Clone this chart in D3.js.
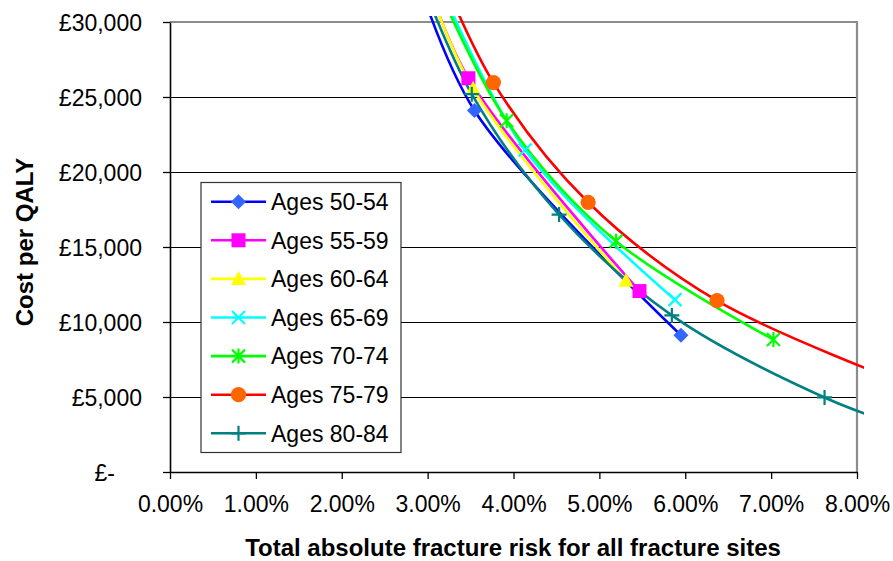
<!DOCTYPE html>
<html>
<head>
<meta charset="utf-8">
<script src="https://cdn.jsdelivr.net/npm/d3@7"></script>
<style>
  html, body { margin: 0; padding: 0; background: #fff; }
  svg { display: block; font-family: "Liberation Sans", Arial, sans-serif; }
  .tick text { font-size: 23px; fill: #000; }
  .axis-title { font-size: 24px; font-weight: bold; fill: #000; }
  .legend text { font-size: 23px; fill: #000; }
</style>
</head>
<body>
<svg id="chart" width="893" height="561"></svg>
<script>
// Cost per QALY against total absolute fracture risk, by age band.
// Values; first (and for the two oldest
// bands, last) point of each series lies outside the axes and is clipped.

const ages = ["Ages 50-54", "Ages 55-59", "Ages 60-64", "Ages 65-69",
  "Ages 70-74", "Ages 75-79", "Ages 80-84"];

// risk in %, one array per age band
const riskPct = [
  [2.82, 3.545, 5.95],
  [2.92, 3.475, 5.467],
  [2.91, 3.53, 5.31],
  [3.03, 4.135, 5.88],
  [2.99, 3.92, 5.195, 7.027],
  [3.10, 3.766, 4.869, 6.37, 8.6],
  [2.84, 3.514, 4.531, 5.844, 7.622, 8.6],
];
// cost per QALY in £
const costGBP = [
  [34000, 24100, 9120],
  [34000, 26250, 12060],
  [34000, 25550, 12750],
  [34000, 21470, 11490],
  [34000, 23420, 15390, 8830],
  [34000, 25960, 17980, 11420, 5800],
  [34000, 25190, 17160, 10440, 4970, 2900],
];

const xTicks = [0, 1, 2, 3, 4, 5, 6, 7, 8];
const xTickLabels = ["0.00%", "1.00%", "2.00%", "3.00%", "4.00%", "5.00%", "6.00%", "7.00%", "8.00%"];
const yTicks = [0, 5000, 10000, 15000, 20000, 25000, 30000];
const yTickLabels = ["£-", "£5,000", "£10,000", "£15,000", "£20,000", "£25,000", "£30,000"];

const lineColors = ["#0000ff", "#ff00ff", "#ffff00", "#00ffff", "#00ff00", "#ff0000", "#008080"];
const markerColors = ["#3366ff", "#ff00ff", "#ffff00", "#00ffff", "#00ff00", "#ff6600", "#008080"];
const markerKinds = ["diamond", "square", "triangle", "times", "asterisk", "circle", "plus"];

const svg = d3.select("#chart");
const margin = { top: 22, right: 36, bottom: 89, left: 170 };
const W = 893, H = 561;

const x = d3.scaleLinear().domain([0, 8]).range([margin.left, W - margin.right]);
const y = d3.scaleLinear().domain([0, 30000]).range([H - margin.bottom, margin.top]);

// ---------- marker shapes ----------
function markerPath(kind) {
  switch (kind) {
    case "diamond": return "M0,-7.5L7.5,0L0,7.5L-7.5,0Z";
    case "square": return "M-7,-7H7V7H-7Z";
    case "triangle": return "M0,-8L7.5,6H-7.5Z";
    case "circle": return d3.symbol(d3.symbolCircle, Math.PI * 7.6 * 7.6)();
    case "times": return "M-6.5,-6.5L6.5,6.5M-6.5,6.5L6.5,-6.5";
    case "asterisk": return "M-6.5,-6.5L6.5,6.5M-6.5,6.5L6.5,-6.5M0,-7.5V7.5";
    case "plus": return "M-7.5,0H7.5M0,-7.5V7.5";
  }
}
const stroked = (k) => k === "times" || k === "asterisk" || k === "plus";
function drawMarker(g, i) {
  const k = markerKinds[i];
  g.append("path").attr("d", markerPath(k))
    .attr("fill", stroked(k) ? "none" : markerColors[i])
    .attr("stroke", stroked(k) ? markerColors[i] : "none")
    .attr("stroke-width", 2.2);
}

// ---------- plot frame + gridlines ----------
svg.append("rect").attr("x", margin.left).attr("y", margin.top)
  .attr("width", x(8) - x(0)).attr("height", y(0) - y(30000)).attr("fill", "#fff");

svg.append("g").selectAll("line").data(yTicks.filter((d) => d > 0 && d < 30000)).join("line")
  .attr("x1", x(0)).attr("x2", x(8)).attr("y1", (d) => y(d)).attr("y2", (d) => y(d))
  .attr("stroke", "#000").attr("stroke-width", 1).attr("shape-rendering", "crispEdges");

svg.append("path")
  .attr("d", `M${x(0)},${y(30000)}H${x(8)}V${y(0)}`)
  .attr("fill", "none").attr("stroke", "#8c8c8c").attr("stroke-width", 2.2);

// ---------- axes ----------
const yAxis = svg.append("g").attr("transform", `translate(${x(0)},0)`)
  .call(d3.axisLeft(y).tickValues(yTicks).tickSize(7).tickSizeOuter(0).tickPadding(21)
    .tickFormat((d, i) => yTickLabels[i]));
yAxis.selectAll(".tick text").attr("dy", "0.36em")
  .attr("x", (d) => (d === 0 ? -55 : -28));

const xAxis = svg.append("g").attr("transform", `translate(0,${y(0)})`)
  .call(d3.axisBottom(x).tickValues(xTicks).tickSize(7).tickSizeOuter(0).tickPadding(17)
    .tickFormat((d, i) => xTickLabels[i]));

[yAxis, xAxis].forEach((a) => {
  a.select(".domain").attr("stroke", "#000").attr("stroke-width", 1.6);
  a.selectAll(".tick line").attr("stroke", "#000").attr("stroke-width", 1.3);
});

svg.append("text").attr("class", "axis-title")
  .attr("transform", `translate(33,242) rotate(-90)`)
  .attr("text-anchor", "middle").text("Cost per QALY");
svg.append("text").attr("class", "axis-title")
  .attr("x", 513).attr("y", 556).attr("text-anchor", "middle")
  .text("Total absolute fracture risk for all fracture sites");

// ---------- series ----------
svg.append("clipPath").attr("id", "clip").append("rect")
  .attr("x", x(0)).attr("y", y(30000) - 6).attr("width", x(8) - x(0) + 7).attr("height", y(0) - y(30000) + 6);

const line = d3.line().x((d) => x(d[0])).y((d) => y(d[1])).curve(d3.curveCatmullRom.alpha(0.5));
const series = ages.map((name, i) => ({
  name, i, pts: riskPct[i].map((r, j) => [r, costGBP[i][j]]),
}));

const gSeries = svg.append("g").attr("clip-path", "url(#clip)");
series.forEach((s) => {
  gSeries.append("path").attr("d", line(s.pts)).attr("fill", "none")
    .attr("stroke", lineColors[s.i]).attr("stroke-width", 2.6);
});
series.forEach((s) => {
  s.pts.filter((p) => p[0] >= 0 && p[0] <= 8 && p[1] >= 0 && p[1] <= 30000).forEach((p) => {
    const g = svg.append("g").attr("transform", `translate(${x(p[0])},${y(p[1])})`);
    drawMarker(g, s.i);
  });
});

// ---------- legend ----------
const legend = svg.append("g").attr("class", "legend");
legend.append("rect").attr("x", 201).attr("y", 182.5).attr("width", 200).attr("height", 270)
  .attr("fill", "#fff").attr("stroke", "#333").attr("stroke-width", 1.2);
ages.forEach((name, i) => {
  const row = legend.append("g").attr("transform", `translate(0,${201.7 + i * 38.6})`);
  row.append("line").attr("x1", 211).attr("x2", 266).attr("stroke", lineColors[i]).attr("stroke-width", 2.6);
  drawMarker(row.append("g").attr("transform", "translate(238.5,0)"), i);
  row.append("text").attr("x", 271).attr("dy", "0.36em").text(name);
});
</script>
</body>
</html>
